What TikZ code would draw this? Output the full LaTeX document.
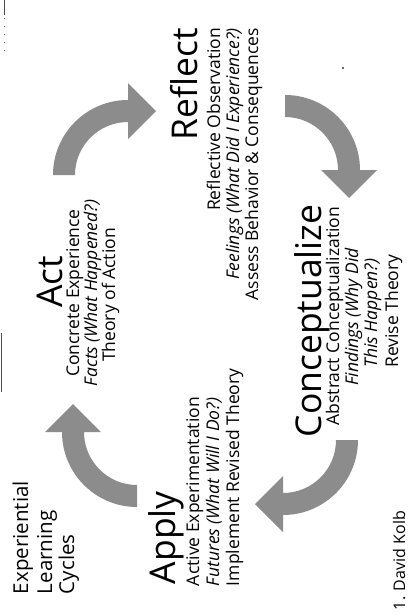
\documentclass[tikz,border=0pt]{standalone}
\usepackage{fontspec}
\setmainfont{Open Sans}
\newcommand\curvedarrowpath{(90:75) arc[start angle=90,end angle=0,radius=75]
      -- (92,0) -- (64,-28) -- (36,0) -- (53,0)
      arc[start angle=0,end angle=90,radius=53] -- cycle}
\begin{document}
\begin{tikzpicture}[x=1pt,y=1pt,
  every node/.style={inner sep=0pt, outer sep=0pt, rotate=90},
  ttl/.style={font=\fontsize{20.5}{22}\selectfont, anchor=base west},
  hd/.style={font=\fontsize{35.5}{36}\selectfont},
  sb/.style={font=\fontsize{17.5}{18}\selectfont},
  arrowgray/.style={fill=black!45},
  scanmark/.style={black!70, line width=1pt}]
\fill[white] (0,0) rectangle (409,-616);
\useasboundingbox (0,0) rectangle (409,-616);

% scan marks
\draw[scanmark] (1.5,-333) -- (1.5,-392);
\draw[scanmark] (4,0) -- (4,-15);
\draw[black!50, line width=0.7pt, dash pattern=on 1pt off 7pt] (4,-18) -- (4,-58);
\fill[black!80] (343,-68) circle[radius=1.1];

% title
\node[ttl] (t1) at (28,-594) {Experiential};
\node[ttl] (t2) at (52,-594) {Learning};
\node[ttl] (t3) at (74,-594) {Cycles};

% Apply
\node[hd, anchor=base west] (apply) at (175,-584) {Apply};
\node[sb, anchor=base west] (ap1) at (199,-586) {Active Experimentation};
\node[sb, anchor=base west] (ap2) at (219,-586) {\itshape Futures (What Will I Do?)};
\node[sb, anchor=base west] (ap3) at (239,-586) {Implement Revised Theory};

% Act
\node[hd, anchor=base] (act) at (62,-282) {Act};
\node[sb, anchor=base] (ac1) at (79,-293) {Concrete Experience};
\node[sb, anchor=base] (ac2) at (97,-293) {\itshape Facts (What Happened?)};
\node[sb, anchor=base] (ac3) at (115,-295) {Theory of Action};

% Reflect
\node[hd, anchor=base east] (ref) at (197,-28) {Reflect};
\node[sb, anchor=base east] (r1) at (220,-28) {Reflective Observation};
\node[sb, anchor=base east] (r2) at (239,-28) {\itshape Feelings (What Did I Experience?)};
\node[sb, anchor=base east] (r3) at (258,-28) {Assess Behavior \& Consequences};

% Conceptualize
\node[hd, anchor=base] (con) at (321,-321) {Conceptualize};
\node[sb, anchor=base] (c1) at (339,-316) {Abstract Conceptualization};
\node[sb, anchor=base] (c2) at (358,-317) {\itshape Findings (Why Did};
\node[sb, anchor=base] (c3) at (377,-313) {\itshape This Happen?)};
\node[sb, anchor=base] (c4) at (398,-311) {Revise Theory};

% source
\node[anchor=base west, font=\fontsize{16}{18}\selectfont] (kolb) at (405,-610) {1. David Kolb};

% curved arrows
\begin{scope}[shift={(137,-432)}, rotate=180]
  \fill[arrowgray] \curvedarrowpath;
\end{scope}
\begin{scope}[shift={(128,-175)}, rotate=90]
  \fill[arrowgray] \curvedarrowpath;
\end{scope}
\begin{scope}[shift={(285,-170)}]
  \fill[arrowgray] \curvedarrowpath;
\end{scope}
\begin{scope}[shift={(283,-440)}, rotate=-90]
  \fill[arrowgray] \curvedarrowpath;
\end{scope}
\end{tikzpicture}
\end{document}
